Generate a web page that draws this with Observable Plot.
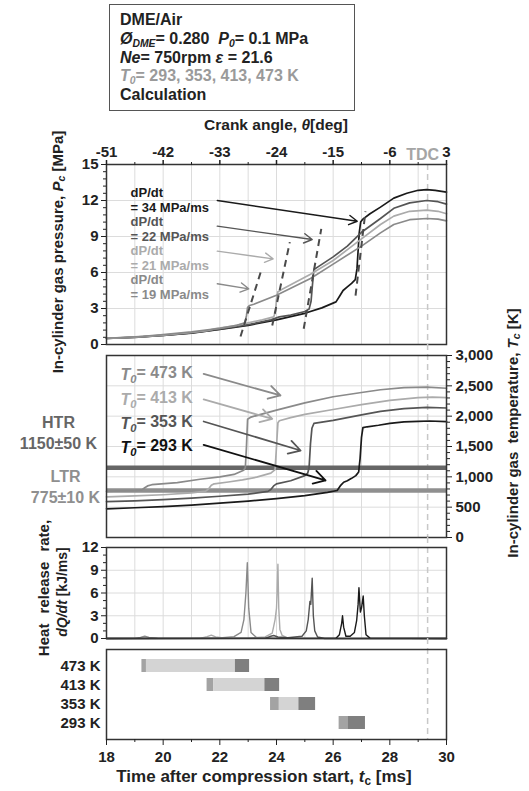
<!DOCTYPE html>
<html><head><meta charset="utf-8">
<script src="https://cdn.jsdelivr.net/npm/d3@7"></script>
<script src="https://cdn.jsdelivr.net/npm/@observablehq/plot@0.6"></script>
<style>
body{margin:0;background:#fff;}
#wrap{position:relative;width:529px;height:791px;font-family:"Liberation Sans",Arial,Helvetica,sans-serif;font-weight:bold;color:#222;overflow:hidden;background:#fff;}
.box{position:absolute;left:109px;top:4px;width:234px;height:99px;border:1.5px solid #555;padding:6px 0 0 10px;font-size:16px;line-height:18.8px;white-space:nowrap;}
.box sub{font-size:0.65em;vertical-align:-0.25em;line-height:0;}
.lab{position:absolute;white-space:nowrap;transform:translate(-50%,-50%) rotate(-90deg);font-size:15px;}
.hl{position:absolute;white-space:nowrap;transform:translate(-50%,-50%);}
.lab sub,.hl sub{font-size:0.7em;vertical-align:-0.25em;line-height:0;}
</style></head>
<body><div id="wrap">
<div class="box">
<div>DME/Air</div>
<div><i>Ø</i><sub><i>DME</i></sub>= 0.280&nbsp;&nbsp;<i>P</i><sub><i>0</i></sub>= 0.1 MPa</div>
<div><i>Ne</i>= 750rpm <i>ε</i> = 21.6</div>
<div style="color:#9a9a9a"><i>T</i><sub><i>0</i></sub>= 293, 353, 413, 473 K</div>
<div>Calculation</div>
</div>
<div class="hl" style="left:276px;top:125px;font-size:15.5px">Crank angle, <i>θ</i>[deg]</div>
<div class="lab" style="left:57px;top:252px">In-cylinder gas pressure, <i>P</i><sub><i>c</i></sub> [MPa]</div>
<div class="lab" style="left:512px;top:433px">In-cylinder gas&nbsp; temperature, <i>T</i><sub><i>c</i></sub> [K]</div>
<div class="lab" style="left:43px;top:588px;word-spacing:6px">Heat release rate,</div>
<div class="lab" style="left:62px;top:592px;font-size:14px"><i>dQ/dt</i> [kJ/ms]</div>
<div class="hl" style="left:264px;top:777px;font-size:17px">Time after compression start, <i>t</i><sub>c</sub> [ms]</div>
</div>
<script>
// ---------- data ----------
const keys = ["293 K", "353 K", "413 K", "473 K"];
const seriesColor = ["#1a1a1a", "#555555", "#ababab", "#8a8a8a"];

// crank angle axis (750 rpm)
const crankTicks = [-51, -42, -33, -24, -15, -6, 3];
const crankAtStart = -51;      // crank angle at t = 18 ms
const degPerMs = 750 * 360 / 60000;
const timeTicks = [18, 20, 22, 24, 26, 28, 30];
const timeMinor = [19, 21, 23, 25, 27, 29];
const gridTimes = [19, 20, 21, 22, 23, 24, 25, 26, 27, 28, 29];
const tdcCrank = 0;

// pressure [MPa]
const tP293 = [18,19,20,21,22,23,24,25,25.6,26.1,26.22,26.35,26.5,26.65,26.78,26.84,26.88,26.92,26.97,27.05,27.3,27.67,28.14,28.6,29.0,29.3,29.6,30];
const P293  = [0.50,0.60,0.75,0.95,1.25,1.60,2.05,2.60,3.05,3.55,4.0,4.5,4.8,5.1,5.4,6.3,7.8,9.3,10.2,10.45,10.9,11.45,12.2,12.6,12.85,12.9,12.85,12.7];
const tP353 = [18,19,20,21,22,23,23.8,24.1,24.5,25.0,25.15,25.22,25.27,25.32,25.45,26.0,26.5,27.0,27.67,28.14,28.7,29.3,29.7,30];
const P353  = [0.50,0.61,0.76,0.97,1.28,1.65,2.05,2.3,2.45,2.75,2.95,3.6,5.0,6.25,6.45,7.3,8.2,9.35,10.5,11.35,11.8,12.0,11.9,11.7];
const tP413 = [18,19,20,21,21.55,21.8,22.5,23.0,23.5,23.9,23.97,24.0,24.05,24.2,25.0,25.2,26.0,27.0,27.67,28.14,28.7,29.3,29.7,30];
const P413  = [0.51,0.62,0.78,1.0,1.15,1.3,1.55,1.8,2.05,2.3,2.8,3.8,4.4,4.6,5.6,5.85,7.0,8.8,10.0,10.7,11.1,11.2,11.1,10.9];
const tP473 = [18,19,19.3,19.5,20,21,22,22.6,22.88,22.94,22.98,23.05,23.2,24.0,25.2,26.0,27.0,27.67,28.14,28.7,29.3,29.7,30];
const P473  = [0.52,0.63,0.68,0.73,0.82,1.05,1.35,1.6,1.8,2.4,3.1,3.25,3.35,4.1,5.5,6.7,8.2,9.3,10.0,10.4,10.5,10.45,10.3];
const pTicks = [0, 3, 6, 9, 12, 15];
const pGrid = [3, 6, 9, 12];

// dP/dt annotations
const dpText = ["dP/dt\n= 34 MPa/ms", "dP/dt\n= 22 MPa/ms", "dP/dt\n= 21 MPa/ms", "dP/dt\n= 19 MPa/ms"];
const dpColor = ["#1a1a1a", "#555555", "#ababab", "#8a8a8a"];
const dpTextT = [18.85, 18.85, 18.85, 18.85];
const dpTextP = [12.1, 9.65, 7.24, 4.82];
const dpArrowT1 = [21.91, 21.91, 21.91, 21.91];
const dpArrowP1 = [12.0, 9.86, 7.78, 5.06];
const dpArrowT2 = [26.85, 25.26, 23.88, 23.02];
const dpArrowP2 = [10.27, 8.75, 7.14, 4.64];
const slopeT1 = [26.79, 24.96, 23.85, 22.73];
const slopeP1 = [4.08, 1.31, 1.58, 0.67];
const slopeT2 = [27.14, 25.58, 24.47, 23.49];
const slopeP2 = [11.1, 9.64, 8.53, 6.39];

// temperature [K]
const tT293 = [18,19,20,21,22,23,24,25,25.8,26.14,26.25,26.37,26.5,26.65,26.8,26.9,26.95,27.0,27.05,27.2,27.6,28,28.5,29,29.4,30];
const T293  = [473,490,510,535,565,600,640,690,745,775,850,910,935,975,1020,1080,1300,1650,1810,1825,1850,1880,1905,1915,1920,1910];
const tT353 = [18,19,20,21,22,23,23.7,23.8,23.9,24.0,24.5,25.0,25.1,25.15,25.2,25.25,25.32,26,27,27.67,28.5,29.3,30];
const T353  = [590,605,625,650,680,715,760,790,850,885,935,1020,1060,1150,1550,1800,1880,1930,2020,2080,2125,2145,2135];
const tT413 = [18,19,20,21,21.5,21.6,21.7,21.8,22.3,22.8,23.3,23.8,23.95,24.0,24.05,24.1,24.5,25,26,27,28,29,29.5,30];
const T413  = [670,685,705,735,765,800,860,885,915,950,995,1060,1120,1500,1890,1925,1975,2030,2110,2190,2260,2305,2315,2305];
const tT473 = [18,19,19.25,19.35,19.45,19.6,20.5,21.3,22.0,22.5,22.84,22.9,22.94,22.98,23.1,24,25,26,27,27.67,28.5,29.3,30];
const T473  = [760,775,785,820,850,870,905,960,1000,1040,1110,1150,1500,1950,1985,2100,2220,2320,2390,2435,2470,2480,2460];
const tTicks = [0, 500, 1000, 1500, 2000, 2500, 3000];
const tGrid = [500, 1000, 1500, 2000, 2500];
const regimeName = ["HTR\n1150±50 K", "LTR\n775±10 K"];
const regimeT = [1150, 775];
const regimeColor = ["#666666", "#8f8f8f"];
const regimeLabelT = [1736, 857];

const t0Text = ["T0= 473 K", "T0= 413 K", "T0= 353 K", "T0= 293 K"];
const t0Color = ["#8a8a8a", "#ababab", "#555555", "#111111"];
const t0TextT = [18.49, 18.49, 18.49, 18.49];
const t0TextV = [2687, 2275, 1879, 1483];
const t0ArrowT1 = [21.43, 21.43, 21.43, 21.43];
const t0ArrowV1 = [2698, 2275, 1912, 1528];
const t0ArrowT2 = [24.14, 23.85, 24.85, 25.73];
const t0ArrowV2 = [2341, 1956, 1434, 940];

// heat release rate [kJ/ms]
const tQ293 = [18,26.1,26.22,26.3,26.33,26.37,26.45,26.6,26.75,26.83,26.88,26.91,26.96,27.0,27.06,27.1,27.16,27.3,30];
const Q293  = [0,0.02,0.5,2.0,3.0,1.5,0.3,0.3,0.8,2.4,4.5,6.7,3.5,4.0,5.6,3.0,0.5,0.05,0];
const tQ353 = [18,23.6,23.8,23.9,24.05,24.4,24.9,25.05,25.12,25.18,25.21,25.26,25.3,25.35,25.45,25.7,30];
const Q353  = [0,0.02,0.3,0.4,0.2,0.1,0.3,1.0,2.5,4.9,4.5,7.95,3,1,0.2,0,0];
const tQ413 = [18,21.3,21.55,21.7,21.85,22.2,23.0,23.6,23.85,23.95,24.0,24.02,24.05,24.08,24.12,24.2,24.4,25,30];
const Q413  = [0,0.02,0.25,0.45,0.2,0.05,0.05,0.2,0.7,2.5,4.0,6.0,9.8,4.0,1.2,0.4,0.05,0,0];
const tQ473 = [18,19.0,19.2,19.35,19.5,19.8,21.0,22.0,22.5,22.75,22.85,22.92,22.97,23.02,23.1,23.3,24,30];
const Q473  = [0,0.02,0.15,0.3,0.15,0.03,0.02,0.08,0.25,0.8,2.5,6,10.0,4,0.8,0.1,0,0];
const qTicks = [0, 3, 6, 9, 12];
const qGrid = [3, 6, 9];

// reaction durations [ms]
const rows = ["473 K", "413 K", "353 K", "293 K"];
const ltrStart = [19.25, 21.55, 23.79, 26.21];
const ltrEnd   = [19.41, 21.79, 24.10, 26.52];
const htrStart = [22.55, 23.59, 24.79, 26.52];
const htrEnd   = [23.05, 24.11, 25.38, 27.14];
const phaseColor = ["#a3a3a3", "#d4d4d4", "#7f7f7f"];

// ---------- helpers ----------
const toTime = th => 18 + (th - crankAtStart) / degPerMs;
const toCrank = t => Math.round((t - 18) * degPerMs + crankAtStart);
const tdc = toTime(tdcCrank);
const crankTickTimes = crankTicks.map(toTime);
const pMinor = d3.range(0, 15.01, 0.6).filter(v => Math.abs(v / 3 - Math.round(v / 3)) > 1e-6);
const tMinor = d3.range(0, 3001, 100).filter(v => v % 500 !== 0);
const qMinor = d3.range(0, 12.01, 1).filter(v => v % 3 !== 0);

function series(ts, vs) {
  return keys.flatMap((k, i) => ts[i].map((t, j) => ({key: k, t, v: vs[i][j], color: seriesColor[i]})));
}
const pressure = series([tP293, tP353, tP413, tP473], [P293, P353, P413, P473]);
const temperature = series([tT293, tT353, tT413, tT473], [T293, T353, T413, T473]);
const heat = series([tQ293, tQ353, tQ413, tQ473], [Q293, Q353, Q413, Q473]).reverse();
const dpAnn = dpText.map((s, i) => ({s, c: dpColor[i], tx: dpTextT[i], py: dpTextP[i], x1: dpArrowT1[i], y1: dpArrowP1[i], x2: dpArrowT2[i], y2: dpArrowP2[i]}));
const slopes = slopeT1.map((t, i) => ({x1: t, y1: slopeP1[i], x2: slopeT2[i], y2: slopeP2[i]}));
const t0Ann = t0Text.map((s, i) => ({s, c: t0Color[i], tx: t0TextT[i], ty: t0TextV[i], x1: t0ArrowT1[i], y1: t0ArrowV1[i], x2: t0ArrowT2[i], y2: t0ArrowV2[i]}));
const regimes = regimeName.map((s, i) => ({s, T: regimeT[i], c: regimeColor[i], ly: regimeLabelT[i]}));
const gantt = rows.flatMap((r, i) => [
  {row: r, x1: ltrStart[i], x2: ltrEnd[i], c: phaseColor[0]},
  {row: r, x1: ltrEnd[i], x2: htrStart[i], c: phaseColor[1]},
  {row: r, x1: htrStart[i], x2: htrEnd[i], c: phaseColor[2]}
]).filter(d => d.x2 > d.x1);

const style = {fontFamily: '"Liberation Sans", Arial, Helvetica, sans-serif', fontSize: "15px", fontWeight: "bold", background: "transparent", overflow: "visible", color: "#222"};
const base = {width: 529, marginLeft: 106, marginRight: 83, style, color: {type: "identity"}};
const gridStyle = {stroke: "#dcdcdc", strokeOpacity: 1, strokeWidth: 1};
const frame = Plot.frame({stroke: "#333", strokeWidth: 1.5});
const tdcRule = (top, bottom) => Plot.ruleX([tdc], {stroke: "#c8c8c8", strokeWidth: 1.5, strokeDasharray: "6,4", insetTop: -top, insetBottom: -bottom});
const wrap = document.getElementById("wrap");
function place(svg, top) {
  svg.style.position = "absolute"; svg.style.left = "0px"; svg.style.top = top + "px";
  wrap.appendChild(svg);
}

// ---------- panel 1: pressure ----------
const p1 = Plot.plot({
  ...base, height: 235, marginTop: 49, marginBottom: 6,
  x: {domain: [18, 30], axis: null}, y: {domain: [0, 15], axis: null},
  marks: [
    Plot.gridX(gridTimes, gridStyle),
    Plot.gridY(pGrid, gridStyle),
    tdcRule(0, 0),
    Plot.line(pressure, {x: "t", y: "v", z: "key", stroke: "color", strokeWidth: 1.7}),
    Plot.link(slopes, {x1: "x1", y1: "y1", x2: "x2", y2: "y2", stroke: "#4a4a4a", strokeWidth: 2, strokeDasharray: "7,5"}),
    Plot.arrow(dpAnn, {x1: "x1", y1: "y1", x2: "x2", y2: "y2", stroke: "c", strokeWidth: 1.4, headLength: 10}),
    Plot.text(dpAnn, {x: "tx", y: "py", text: "s", fill: "c", textAnchor: "start", lineAnchor: "middle", lineHeight: 1.15, fontSize: 13}),
    Plot.text(["TDC"], {x: tdc, frameAnchor: "top", dy: -16, dx: -5, fill: "#a5a5a5", fontSize: 16, letterSpacing: "1px"}),
    frame,
    Plot.axisX(crankTickTimes, {anchor: "top", tickFormat: toCrank, tickSize: 5, tickPadding: 3, label: null, strokeWidth: 1.5}),
    Plot.axisX(timeMinor, {anchor: "top", tickSize: 3, fill: "none", label: null}),
    Plot.axisY(pTicks, {anchor: "left", tickSize: 5, tickPadding: 3, label: null}),
    Plot.axisY(pMinor, {anchor: "left", tickSize: 3, fill: "none", label: null})
  ]
});
place(p1, 115);

// ---------- panel 2: temperature ----------
const p2 = Plot.plot({
  ...base, height: 190, marginTop: 5, marginBottom: 3,
  x: {domain: [18, 30], axis: null}, y: {domain: [0, 3000], axis: null},
  marks: [
    Plot.gridX(gridTimes, gridStyle),
    Plot.gridY(tGrid, gridStyle),
    tdcRule(11, 0),
    Plot.ruleY(regimes, {y: "T", stroke: "c", strokeWidth: 4.5}),
    Plot.line(temperature, {x: "t", y: "v", z: "key", stroke: "color", strokeWidth: 1.7}),
    Plot.arrow(t0Ann, {x1: "x1", y1: "y1", x2: "x2", y2: "y2", stroke: "c", strokeWidth: 1.8, headLength: 11}),
    Plot.text(t0Ann, {x: "tx", y: "ty", text: "s", fill: "c", textAnchor: "start", fontSize: 16}),
    Plot.text(regimes.slice(0, 1), {x: 18, y: "ly", text: "s", fill: "c", dx: -48, lineHeight: 1.3, fontSize: 16}),
    Plot.text(regimes.slice(1), {x: 18, y: "ly", text: "s", fill: "c", dx: -41, lineHeight: 1.3, fontSize: 16}),
    frame,
    Plot.axisY(tTicks, {anchor: "right", tickSize: 5, tickPadding: 4, tickFormat: d3.format(","), label: null}),
    Plot.axisY(tMinor, {anchor: "right", tickSize: 3, fill: "none", label: null})
  ]
});
d3.select(p2).selectAll("text").each(function () {
  const s = this.textContent;
  if (/^T0= /.test(s)) {
    this.innerHTML = '<tspan font-style="italic">T</tspan><tspan font-style="italic" font-size="0.7em" dy="0.3em">0</tspan><tspan dy="-0.3em">' + s.slice(2) + '</tspan>';
  }
});
place(p2, 350);

// ---------- panel 3: heat release rate ----------
const p3 = Plot.plot({
  ...base, height: 105, marginTop: 7, marginBottom: 7,
  x: {domain: [18, 30], axis: null}, y: {domain: [0, 12], axis: null},
  marks: [
    Plot.gridX(gridTimes, gridStyle),
    Plot.gridY(qGrid, gridStyle),
    tdcRule(10, 0),
    Plot.line(heat, {x: "t", y: "v", z: "key", stroke: "color", strokeWidth: 1.4}),
    frame,
    Plot.axisY(qTicks, {anchor: "left", tickSize: 5, tickPadding: 3, label: null}),
    Plot.axisY(qMinor, {anchor: "left", tickSize: 3, fill: "none", label: null})
  ]
});
place(p3, 540);

// ---------- panel 4: reaction durations ----------
const p4 = Plot.plot({
  ...base, height: 146, marginTop: 4, marginBottom: 52,
  x: {domain: [18, 30], axis: null},
  y: {domain: rows, range: [13.5, 84.5], paddingInner: 0.33, paddingOuter: 0, axis: null},
  marks: [
    tdcRule(11, 0),
    Plot.barX(gantt, {x1: "x1", x2: "x2", y: "row", fill: "c"}),
    frame,
    Plot.axisY({anchor: "left", tickSize: 0, tickPadding: 6, label: null}),
    Plot.axisX(timeTicks, {anchor: "bottom", tickSize: 6, tickPadding: 6, label: null}),
    Plot.axisX(timeMinor, {anchor: "bottom", tickSize: 3, fill: "none", label: null})
  ]
});
place(p4, 645);
</script>
</body></html>
